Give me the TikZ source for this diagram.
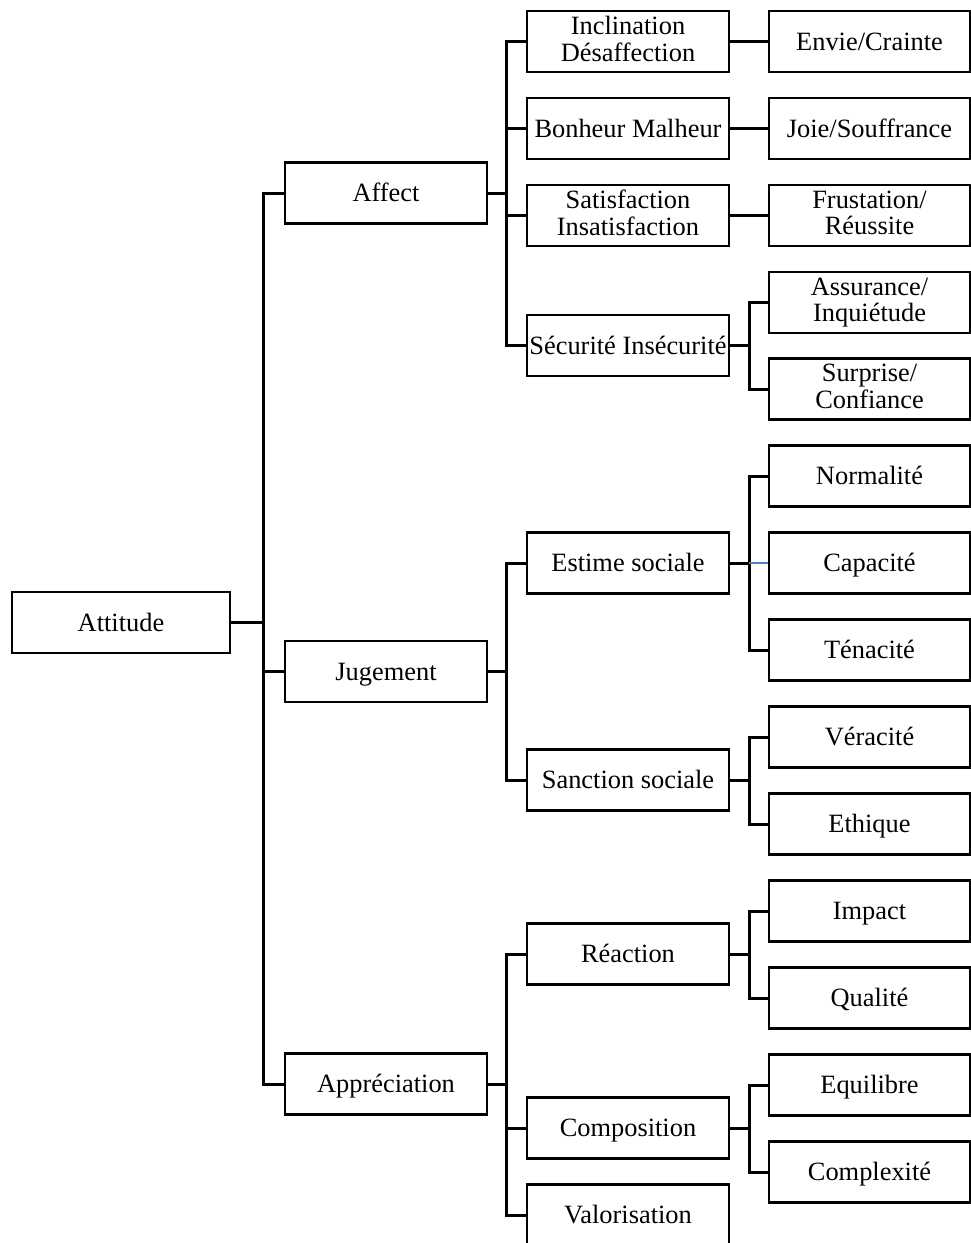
\documentclass[tikz,border=0pt]{standalone}
\usepackage{fontspec}
\setmainfont{Liberation Serif}
\definecolor{linkblue}{RGB}{79,129,189}
\def\wordstrut{\vrule height 23.5pt depth 5.7pt width 0pt\relax}
\def\tightlines{\lineskiplimit=-100pt\relax}
\begin{document}
\begin{tikzpicture}[x=1pt,y=-1pt,
  box/.style={draw=black,line width=2.8pt,inner sep=0pt,minimum height=61pt,align=center,
    font=\fontsize{26.4}{26.6}\selectfont,
    execute at begin node={\tightlines\wordstrut}, execute at end node={\wordstrut}},
  c1/.style={box,minimum width=218pt},
  c2/.style={box,minimum width=202pt},
  c3/.style={box,minimum width=202pt},
  c4/.style={box,minimum width=201pt},
  link/.style={draw=black,line width=3pt},
  bluelink/.style={draw=linkblue,line width=1.4pt}]
\useasboundingbox (0,0) rectangle (971,1243);
\fill[white] (0,0) rectangle (971,1243);
% column 1
\node[c1] (att) at (121,622.5) {Attitude};
% column 2
\node[c2] (aff) at (386,193) {Affect};
\node[c2] (jug) at (386,671.5) {Jugement};
\node[c2] (app) at (386,1084) {Appréciation};
% column 3
\node[c3] (incl) at (628,41.5) {Inclination\\Désaffection};
\node[c3] (bonh) at (628,128.5) {Bonheur Malheur};
\node[c3] (sati) at (628,215.5) {Satisfaction\\Insatisfaction};
\node[c3] (secu) at (628,345.5) {Sécurité Insécurité};
\node[c3] (esti) at (628,563) {Estime sociale};
\node[c3] (sanc) at (628,780) {Sanction sociale};
\node[c3] (reac) at (628,954) {Réaction};
\node[c3] (comp) at (628,1128) {Composition};
\node[c3] (valo) at (628,1215) {Valorisation};
% column 4
\node[c4] (envi) at (869.5,41.5) {Envie/Crainte};
\node[c4] (joie) at (869.5,128.5) {Joie/Souffrance};
\node[c4] (frus) at (869.5,215.5) {Frustation/\\Réussite};
\node[c4] (assu) at (869.5,302.5) {Assurance/\\Inquiétude};
\node[c4] (surp) at (869.5,389) {Surprise/\\Confiance};
\node[c4] (norm) at (869.5,476) {Normalité};
\node[c4] (capa) at (869.5,563) {Capacité};
\node[c4] (tena) at (869.5,650) {Ténacité};
\node[c4] (vera) at (869.5,737) {Véracité};
\node[c4] (ethi) at (869.5,824) {Ethique};
\node[c4] (impa) at (869.5,911) {Impact};
\node[c4] (qual) at (869.5,998) {Qualité};
\node[c4] (equi) at (869.5,1085) {Equilibre};
\node[c4] (cplx) at (869.5,1172) {Complexité};
% bus coordinates
\coordinate (bAtt) at (263,622.5);
\coordinate (bAff) at (506,193);
\coordinate (bJug) at (506,671.5);
\coordinate (bApp) at (506,1084);
\coordinate (bSec) at (749,345.5);
\coordinate (bEst) at (749,563);
\coordinate (bSan) at (749,780);
\coordinate (bRea) at (749,954);
\coordinate (bCom) at (749,1128);
% level 1
\draw[link] (att.east) -- (bAtt);
\draw[link] (bAtt) |- (aff.west);
\draw[link] (bAtt) |- (jug.west);
\draw[link] (bAtt) |- (app.west);
% Affect
\draw[link] (aff.east) -- (bAff);
\draw[link] (bAff) |- (incl.west);
\draw[link] (bAff) |- (bonh.west);
\draw[link] (bAff) |- (sati.west);
\draw[link] (bAff) |- (secu.west);
\draw[link] (incl.east) -- (envi.west);
\draw[link] (bonh.east) -- (joie.west);
\draw[link] (sati.east) -- (frus.west);
\draw[link] (secu.east) -- (bSec);
\draw[link] (bSec) |- (assu.west);
\draw[link] (bSec) |- (surp.west);
% Jugement
\draw[link] (jug.east) -- (bJug);
\draw[link] (bJug) |- (esti.west);
\draw[link] (bJug) |- (sanc.west);
\draw[link] (esti.east) -- (bEst);
\draw[link] (bEst) |- (norm.west);
\draw[link] (bEst) |- (tena.west);
\draw[bluelink] (bEst) -- (capa.west);
\draw[link] (sanc.east) -- (bSan);
\draw[link] (bSan) |- (vera.west);
\draw[link] (bSan) |- (ethi.west);
% Appreciation
\draw[link] (app.east) -- (bApp);
\draw[link] (bApp) |- (reac.west);
\draw[link] (bApp) |- (comp.west);
\draw[link] (bApp) |- (valo.west);
\draw[link] (reac.east) -- (bRea);
\draw[link] (bRea) |- (impa.west);
\draw[link] (bRea) |- (qual.west);
\draw[link] (comp.east) -- (bCom);
\draw[link] (bCom) |- (equi.west);
\draw[link] (bCom) |- (cplx.west);
\end{tikzpicture}
\end{document}
